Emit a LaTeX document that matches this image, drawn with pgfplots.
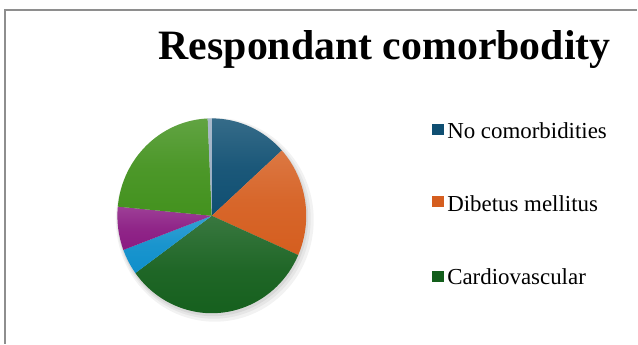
\documentclass[border=0pt]{standalone}
\usepackage{fontspec}
\setmainfont{Liberation Serif}
\usepackage{pgfplots}
\pgfplotsset{compat=1.18}
\usepackage{pgfplotstable}

\definecolor{cBlue}{HTML}{0F4F72}
\definecolor{cOrange}{HTML}{D55E1F}
\definecolor{cDGreen}{HTML}{135E1B}
\definecolor{cLBlue}{HTML}{0E8FCB}
\definecolor{cPurple}{HTML}{8A1A82}
\definecolor{cLGreen}{HTML}{43921E}
\definecolor{cGrey}{HTML}{9AADC2}
\definecolor{frame}{HTML}{8E8E8E}

% slice values (percent), clockwise from 12 o'clock
\pgfplotstableread{
label value colour
{No comorbidities} 13.3 cBlue
{Dibetus mellitus} 18.3 cOrange
{Cardiovascular} 33.4 cDGreen
{Other4} 4.3 cLBlue
{Other5} 7.2 cPurple
{Other6} 22.8 cLGreen
{Other7} 0.7 cGrey
}\piedata

\begin{document}
\begin{tikzpicture}
\begin{axis}[hide axis, scale only axis, width=638bp, height=344bp,
  xmin=0, xmax=638, ymin=0, ymax=344, clip=false]
% frame
\draw[frame, line width=1.2bp] (axis cs:5,0) -- (axis cs:5,334) -- (axis cs:638,334);
% shadow
\fill[black, opacity=0.05] (axis cs:215,124) ellipse [x radius=99bp, y radius=102bp];
\fill[black, opacity=0.05] (axis cs:214,125) ellipse [x radius=97bp, y radius=100bp];
\fill[black, opacity=0.06] (axis cs:213,126) ellipse [x radius=95.5bp, y radius=98.5bp];
% pie
\pgfplotstablegetrowsof{\piedata}\let\nrows\pgfplotsretval
\pgfmathtruncatemacro\lastrow{\nrows-1}
\def\cum{0}
\pgfplotsforeachungrouped \i in {0,...,\lastrow}{%
  \pgfplotstablegetelem{\i}{value}\of\piedata \let\val\pgfplotsretval
  \pgfplotstablegetelem{\i}{colour}\of\piedata \let\col\pgfplotsretval
  \pgfmathsetmacro\aS{90-3.6*\cum}%
  \pgfmathsetmacro\aE{90-3.6*(\cum+\val)}%
  \pgfmathsetmacro\cum{\cum+\val}%
  \pgfmathsetmacro\xS{212+94.5*cos(\aS)}%
  \pgfmathsetmacro\yS{128+97.5*sin(\aS)}%
  \edef\temp{\noexpand\shade[top color=\col!84!white, bottom color=\col, middle color=\col!95!white]
    (axis cs:212,128) -- (axis cs:\xS,\yS)
    arc[start angle=\aS, end angle=\aE, x radius=94.5bp, y radius=97.5bp] -- cycle;}%
  \temp
}
% title
\node[font=\bfseries\fontsize{42}{42}\selectfont, anchor=base] at (axis cs:385,284) {Respondant comorbodity};
% legend
\fill[cBlue] (axis cs:432,209) rectangle (axis cs:444,220);
\node[font=\fontsize{23}{23}\selectfont, anchor=base west, inner sep=0pt] at (axis cs:447.5,205) {No comorbidities};
\fill[cOrange] (axis cs:432,137) rectangle (axis cs:444,148);
\node[font=\fontsize{23}{23}\selectfont, anchor=base west, inner sep=0pt] at (axis cs:447.5,132) {Dibetus mellitus};
\fill[cDGreen] (axis cs:432,62) rectangle (axis cs:444,73);
\node[font=\fontsize{23}{23}\selectfont, anchor=base west, inner sep=0pt] at (axis cs:447.5,59) {Cardiovascular};
\end{axis}
\path (current axis.south west) rectangle (current axis.north east);
\end{tikzpicture}
\end{document}
